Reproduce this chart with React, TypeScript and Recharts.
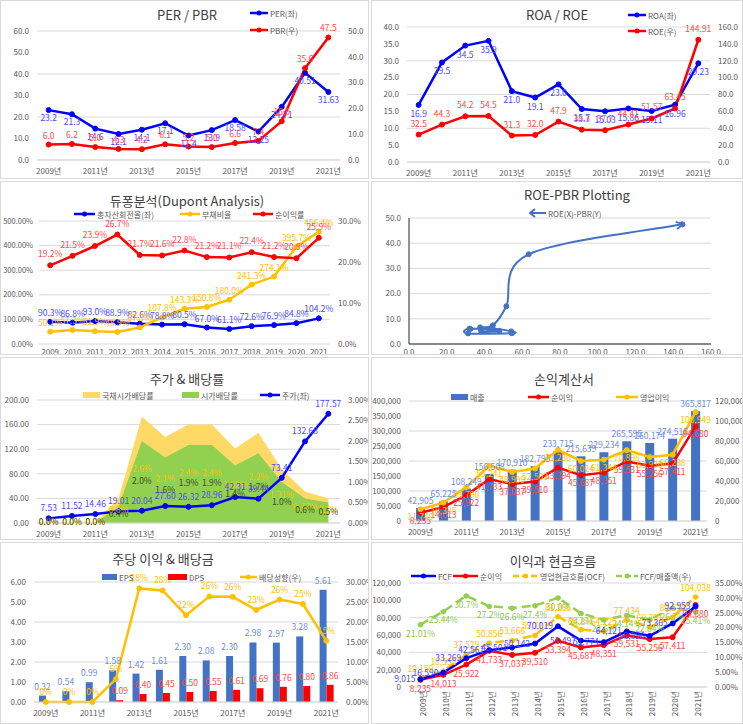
import React from 'react';
import {
  ComposedChart,
  Line,
  Bar,
  Area,
  XAxis,
  YAxis,
  CartesianGrid,
  LabelList
} from 'recharts';

const FONT = '"Noto Sans CJK KR", "Noto Sans", sans-serif';
const GRID = '#D9D9D9';
const TICK = { fill: '#595959', fontSize: 8, fontFamily: FONT };
const BLUE = '#0000FF';
const RED = '#FF0000';
const GOLD = '#FFC000';
const BAR_BLUE = '#4472C4';
const BLUE_L = '#4b4bff';
const RED_L = '#ff4a4a';
const BAR_L = '#6d8ed8';

const years = [2009, 2010, 2011, 2012, 2013, 2014, 2015, 2016, 2017, 2018, 2019, 2020, 2021];

// PER / PBR
const perValues = [23.2, 21.3, 14.6, 12.1, 14.1, 17.1, 11.4, 13.9, 18.58, 13.25, 24.71, 40.51, 31.63];
const pbrValues = [6.0, 6.2, 5.0, 4.3, 4.2, 6.1, 5.2, 5.0, 6.6, 7.4, 15.0, 35.6, 47.5];
const perTicks = [0, 10, 20, 30, 40, 50, 60];
const pbrTicks = [0, 5, 10, 15, 20, 25, 30, 35, 40, 45, 50];

// ROA / ROE
const roaValues = [16.9, 29.5, 34.5, 35.9, 21.0, 19.1, 23.0, 15.7, 15.03, 15.86, 15.11, 16.96, 29.23];
const roeValues = [32.5, 44.3, 54.2, 54.5, 31.3, 32.0, 47.9, 38.3, 37.7, 44.41, 51.57, 63.45, 144.91];
const roaTicks = [0, 5, 10, 15, 20, 25, 30, 35, 40];
const roeTicks = [0, 20, 40, 60, 80, 100, 120, 140, 160];

// Dupont
const assetTurnover = [90.3, 86.8, 93.0, 88.9, 82.6, 78.8, 80.5, 67.0, 61.1, 72.6, 76.9, 84.8, 104.2];
const debtRatio = [50.1, 57.3, 51.9, 48.9, 67.3, 107.8, 143.3, 150.8, 180.0, 241.3, 274.1, 395.7, 456.4];
const netMargin = [19.2, 21.5, 23.9, 26.7, 21.7, 21.6, 22.8, 21.2, 21.1, 22.4, 21.2, 20.9, 25.9];
const dupontLeftTicks = [0, 50, 100, 150, 200, 250, 300, 350, 400, 450, 500];
const dupontRightTicks = [0, 10, 20, 30];

// ROE-PBR plotting
const scatterTicksX = [0, 20, 40, 60, 80, 100, 120, 140, 160];
const scatterTicksY = [0, 5, 10, 15, 20, 25, 30, 35, 40, 45, 50];

// stock price & dividend yield
const stockPrice = [7.53, 11.52, 14.46, 19.01, 20.04, 27.6, 26.32, 28.96, 42.31, 39.44, 73.41, 132.68, 177.57];
const bondYield = [0, 0, 0, 0.6, 2.6, 2.1, 2.4, 2.4, 1.82, 2.2, 1.31, 0.77, 0.6];
const divYield = [0, 0, 0, 0.4, 2.0, 1.6, 1.9, 1.9, 1.4, 1.7, 1.0, 0.6, 0.5];
const priceTicks = [0, 20, 40, 60, 80, 100, 120, 140, 160, 180, 200];
const yieldTicks = [0, 0.5, 1, 1.5, 2, 2.5, 3];

// income statement
const revenue = [42905, 65225, 108249, 156508, 170910, 182795, 233715, 215639, 229234, 265595, 260174, 274515, 365817];
const netIncome = [8235, 14013, 25922, 41733, 37037, 39510, 53394, 45687, 48351, 59531, 55256, 57411, 94680];
const opIncome = [11740, 18385, 33790, 55241, 48999, 52503, 71230, 60024, 61344, 70898, 63930, 66288, 108949];
const revenueTicks = [0, 50000, 100000, 150000, 200000, 250000, 300000, 350000, 400000];
const incomeTicks = [0, 20000, 40000, 60000, 80000, 100000, 120000];

// per share
const eps = [0.32, 0.54, 0.99, 1.58, 1.42, 1.61, 2.3, 2.08, 2.3, 2.98, 2.97, 3.28, 5.61];
const dps = [0, 0, 0, 0.09, 0.4, 0.45, 0.5, 0.55, 0.61, 0.69, 0.76, 0.8, 0.86];
const payout = [0, 0, 0, 5.7, 28.4, 27.9, 21.7, 26.4, 26.3, 23.0, 25.6, 24.5, 15.3];
const epsTicks = [0, 1, 2, 3, 4, 5, 6];
const payoutTicks = [0, 5, 10, 15, 20, 25, 30];

// cash flow
const fcf = [9015, 16590, 33269, 42561, 45501, 50142, 70019, 53497, 51774, 64121, 58896, 73365, 92953];
const ocf = [10159, 18595, 37529, 50856, 53666, 59713, 81266, 66231, 64225, 77434, 69391, 80674, 104038];
const fcfMargin = [21.01, 25.44, 30.7, 27.2, 26.6, 27.4, 30.0, 24.8, 22.6, 24.14, 22.64, 26.7, 25.41];
const cashTicks = [0, 20000, 40000, 60000, 80000, 100000, 120000];
const marginTicks = [0, 5, 10, 15, 20, 25, 30, 35];

const yearKo = (y: number) => `${y}년`;
const fix1 = (v: number) => v.toFixed(1);
const fix2 = (v: number) => v.toFixed(2);
const comma = (v: number) => v.toLocaleString('en-US');
const fmtNum = (v: number) => (String(v).includes('.') ? String(v) : v.toFixed(1));
const fmtPct = (v: number) => `${fmtNum(v)}%`;

const dotOf = (c: string, r = 2.5) => ({ r, fill: c, stroke: c, strokeWidth: 1 });
const lbl = (c: string) => ({ fill: c, fontSize: 8.5, fontFamily: FONT });

// Excel-like smoothed line (Catmull-Rom through the points)
const smoothCurve = (context: any) => {
  let pts: number[][] = [];
  return {
    areaStart() {},
    areaEnd() {},
    lineStart() {
      pts = [];
    },
    lineEnd() {
      if (!pts.length) return;
      context.moveTo(pts[0][0], pts[0][1]);
      for (let i = 0; i < pts.length - 1; i++) {
        const p0 = pts[Math.max(i - 1, 0)];
        const p1 = pts[i];
        const p2 = pts[i + 1];
        const p3 = pts[Math.min(i + 2, pts.length - 1)];
        context.bezierCurveTo(
          p1[0] + (p2[0] - p0[0]) / 6,
          p1[1] + (p2[1] - p0[1]) / 6,
          p2[0] - (p3[0] - p1[0]) / 6,
          p2[1] - (p3[1] - p1[1]) / 6,
          p2[0],
          p2[1]
        );
      }
    },
    point(x: number, y: number) {
      pts.push([x, y]);
    }
  };
};

type LegendKind = 'line' | 'box' | 'dash' | 'arrow';

const LegendItem = ({ x, y, kind, color, label, w = 18 }: { x: number; y: number; kind: LegendKind; color: string; label: string; w?: number }) => (
  <div style={{ position: 'absolute', left: x, top: y - 7, height: 14, display: 'flex', alignItems: 'center', fontSize: 8, color: '#595959', whiteSpace: 'nowrap', fontFamily: FONT }}>
    <svg width={w} height={10} style={{ marginRight: 2 }}>
      {kind === 'box' && <rect x={0} y={2} width={w} height={6} fill={color} />}
      {kind === 'line' && (
        <>
          <line x1={0} y1={5} x2={w} y2={5} stroke={color} strokeWidth={2.5} />
          <circle cx={w / 2} cy={5} r={2.5} fill={color} />
        </>
      )}
      {kind === 'dash' && (
        <>
          <line x1={0} y1={5} x2={w} y2={5} stroke={color} strokeWidth={2.5} strokeDasharray="6 3" />
          <circle cx={w / 2} cy={5} r={2.5} fill={color} />
        </>
      )}
      {kind === 'arrow' && (
        <>
          <line x1={2} y1={5} x2={w} y2={5} stroke={color} strokeWidth={2} />
          <path d="M6,1 L1,5 L6,9" fill="none" stroke={color} strokeWidth={2} />
        </>
      )}
    </svg>
    <span>{label}</span>
  </div>
);

const Title = ({ cx, cy, text }: { cx: number; cy: number; text: string }) => (
  <div style={{ position: 'absolute', left: cx - 120, width: 240, top: cy - 10, height: 20, lineHeight: '20px', textAlign: 'center', fontSize: 13, color: '#404040', fontFamily: FONT, whiteSpace: 'nowrap' }}>
    {text}
  </div>
);

const Panel = ({ x, y, w, h, children }: { x: number; y: number; w: number; h: number; children: React.ReactNode }) => (
  <div style={{ position: 'absolute', left: x, top: y, width: w, height: h, border: `1px solid ${GRID}`, boxSizing: 'border-box', overflow: 'hidden', background: '#fff' }}>
    <div style={{ position: 'absolute', left: -1, top: -1, width: w, height: h }}>{children}</div>
  </div>
);

const perPbrData = years.map((y, i) => ({ year: y, per: perValues[i], pbr: pbrValues[i] }));
const roaRoeData = years.map((y, i) => ({ year: y, roa: roaValues[i], roe: roeValues[i] }));
const dupontData = years.map((y, i) => ({ year: y, turnover: assetTurnover[i], debt: debtRatio[i], margin: netMargin[i] }));
const scatterData = years.map((y, i) => ({ year: y, roe: roeValues[i], pbr: pbrValues[i] }));
const priceData = years.map((y, i) => ({ year: y, price: stockPrice[i], bond: bondYield[i], div: divYield[i] }));
const incomeData = years.map((y, i) => ({ year: y, revenue: revenue[i], net: netIncome[i], op: opIncome[i] }));
const perShareData = years.map((y, i) => ({ year: y, eps: eps[i], dps: dps[i], payout: payout[i] }));
const cashData = years.map((y, i) => ({ year: y, fcf: fcf[i], net: netIncome[i], ocf: ocf[i], margin: fcfMargin[i] }));

const axisY = { tick: TICK, axisLine: false, tickLine: false };

function PerPbrChart() {
  return (
    <ComposedChart width={369} height={179} data={perPbrData} margin={{ top: 31, right: 0, bottom: 0, left: 0 }}>
      <CartesianGrid vertical={false} stroke={GRID} yAxisId="l" />
      <XAxis dataKey="year" scale="band" tickFormatter={yearKo} interval={1} tick={TICK} tickLine={false} axisLine={{ stroke: GRID }} height={19} />
      <YAxis yAxisId="l" domain={[0, 60]} ticks={perTicks} tickFormatter={fix1} width={37} {...axisY} />
      <YAxis yAxisId="r" orientation="right" domain={[0, 50]} ticks={pbrTicks} tickFormatter={fix1} width={29} {...axisY} />
      <Line yAxisId="l" dataKey="per" stroke={BLUE} strokeWidth={2.5} dot={dotOf(BLUE)} isAnimationActive={false}>
        <LabelList dataKey="per" position="bottom" offset={5} formatter={fmtNum} {...lbl(BLUE_L)} />
      </Line>
      <Line yAxisId="r" dataKey="pbr" stroke={RED} strokeWidth={2.5} dot={dotOf(RED)} isAnimationActive={false}>
        <LabelList dataKey="pbr" position="top" offset={6} formatter={fmtNum} {...lbl(RED_L)} />
      </Line>
    </ComposedChart>
  );
}

function RoaRoeChart() {
  return (
    <ComposedChart width={372} height={179} data={roaRoeData} margin={{ top: 27, right: 0, bottom: 0, left: 0 }}>
      <CartesianGrid vertical={false} stroke={GRID} yAxisId="l" />
      <XAxis dataKey="year" scale="band" tickFormatter={yearKo} interval={1} tick={TICK} tickLine={false} axisLine={{ stroke: GRID }} height={17} />
      <YAxis yAxisId="l" domain={[0, 40]} ticks={roaTicks} tickFormatter={fix1} width={36} {...axisY} />
      <YAxis yAxisId="r" orientation="right" domain={[0, 160]} ticks={roeTicks} tickFormatter={fix1} width={33} {...axisY} />
      <Line yAxisId="l" dataKey="roa" stroke={BLUE} strokeWidth={2.5} dot={dotOf(BLUE)} isAnimationActive={false}>
        <LabelList dataKey="roa" position="bottom" offset={6} formatter={fmtNum} {...lbl(BLUE_L)} />
      </Line>
      <Line yAxisId="r" dataKey="roe" stroke={RED} strokeWidth={2.5} dot={dotOf(RED)} isAnimationActive={false}>
        <LabelList dataKey="roe" position="top" offset={8} formatter={fmtNum} {...lbl(RED_L)} />
      </Line>
    </ComposedChart>
  );
}

function DupontChart() {
  return (
    <ComposedChart width={369} height={176} data={dupontData} margin={{ top: 40, right: 0, bottom: 0, left: 0 }}>
      <CartesianGrid vertical={false} stroke={GRID} yAxisId="l" />
      <XAxis dataKey="year" scale="band" interval={0} tick={TICK} tickLine={false} axisLine={false} height={13} tickSize={0} tickMargin={5} />
      <YAxis yAxisId="l" domain={[0, 500]} ticks={dupontLeftTicks} tickFormatter={(v: number) => `${fix2(v)}%`} width={39} tick={{ ...TICK, fontSize: 7.5 }} axisLine={false} tickLine={false} tickSize={4} tickMargin={2} />
      <YAxis yAxisId="r" orientation="right" domain={[0, 30]} ticks={dupontRightTicks} tickFormatter={(v: number) => `${fix1(v)}%`} width={39} {...axisY} />
      <Line yAxisId="l" dataKey="turnover" stroke={BLUE} strokeWidth={2.5} dot={dotOf(BLUE)} isAnimationActive={false}>
        <LabelList dataKey="turnover" position="top" offset={6} formatter={fmtPct} {...lbl(BLUE_L)} />
      </Line>
      <Line yAxisId="l" dataKey="debt" stroke={GOLD} strokeWidth={2.5} dot={dotOf(GOLD)} isAnimationActive={false}>
        <LabelList dataKey="debt" position="top" offset={6} formatter={fmtPct} {...lbl(GOLD)} />
      </Line>
      <Line yAxisId="r" dataKey="margin" stroke={RED} strokeWidth={2.5} dot={dotOf(RED)} isAnimationActive={false}>
        <LabelList dataKey="margin" position="top" offset={8} formatter={fmtPct} {...lbl(RED_L)} />
      </Line>
    </ComposedChart>
  );
}

function RoePbrChart() {
  return (
    <ComposedChart width={372} height={176} data={scatterData} margin={{ top: 37, right: 32, bottom: 0, left: 0 }}>
      <defs>
        <marker id="roeArrow" viewBox="0 0 10 10" refX="8" refY="5" markerWidth="9" markerHeight="9" markerUnits="userSpaceOnUse" orient="auto">
          <path d="M1,1 L9,5 L1,9" fill="none" stroke={BAR_BLUE} strokeWidth={2} />
        </marker>
      </defs>
      <CartesianGrid vertical={false} stroke={GRID} />
      <XAxis dataKey="roe" type="number" domain={[0, 160]} ticks={scatterTicksX} tickFormatter={fix1} tick={TICK} tickLine={false} axisLine={{ stroke: '#262626' }} height={13} tickSize={0} tickMargin={5} />
      <YAxis domain={[0, 50]} ticks={scatterTicksY} tickFormatter={fix1} width={38} tick={TICK} tickLine={false} axisLine={{ stroke: '#262626' }} />
      <Line dataKey="pbr" type={smoothCurve as any} stroke={BAR_BLUE} strokeWidth={2} dot={dotOf(BAR_BLUE, 2.5)} markerEnd="url(#roeArrow)" isAnimationActive={false} />
    </ComposedChart>
  );
}

const midLabel = (color: string, baseY: number) => (p: any) => {
  const { x, y, value } = p;
  if (x == null || y == null) return null;
  return (
    <text x={x} y={(y + baseY) / 2} fill={color} fontSize={8.5} fontFamily={FONT} textAnchor="middle" dominantBaseline="middle">
      {fmtPct(value)}
    </text>
  );
};

function PriceChart() {
  return (
    <ComposedChart width={369} height={183} data={priceData} margin={{ top: 43, right: 0, bottom: 0, left: 0 }}>
      <CartesianGrid vertical={false} stroke={GRID} yAxisId="l" />
      <XAxis dataKey="year" scale="band" tickFormatter={yearKo} interval={1} tick={TICK} tickLine={false} axisLine={{ stroke: GRID }} height={17} />
      <YAxis yAxisId="l" domain={[0, 200]} ticks={priceTicks} tickFormatter={fix2} width={37} {...axisY} />
      <YAxis yAxisId="r" orientation="right" domain={[0, 3]} ticks={yieldTicks} tickFormatter={(v: number) => `${fix2(v)}%`} width={29} {...axisY} />
      <Area yAxisId="r" dataKey="bond" type="linear" stroke="none" fill="#FFD966" fillOpacity={1} isAnimationActive={false}>
        <LabelList dataKey="bond" content={midLabel(GOLD, 166)} />
      </Area>
      <Area yAxisId="r" dataKey="div" type="linear" stroke="none" fill="#92D050" fillOpacity={1} isAnimationActive={false}>
        <LabelList dataKey="div" content={midLabel('#3d4d1c', 166)} />
      </Area>
      <Line yAxisId="l" dataKey="price" stroke={BLUE} strokeWidth={2.5} dot={dotOf(BLUE)} isAnimationActive={false}>
        <LabelList dataKey="price" position="top" offset={7} formatter={fix2} {...lbl(BLUE_L)} />
      </Line>
    </ComposedChart>
  );
}

function IncomeChart() {
  return (
    <ComposedChart width={372} height={183} data={incomeData} margin={{ top: 44, right: 0, bottom: 0, left: 0 }}>
      <CartesianGrid vertical={false} stroke={GRID} yAxisId="l" />
      <XAxis dataKey="year" tickFormatter={yearKo} interval={1} tick={TICK} tickLine={false} axisLine={{ stroke: GRID }} height={19} />
      <YAxis yAxisId="l" domain={[0, 400000]} ticks={revenueTicks} tickFormatter={comma} width={38} {...axisY} />
      <YAxis yAxisId="r" orientation="right" domain={[0, 120000]} ticks={incomeTicks} tickFormatter={comma} width={36} {...axisY} />
      <Bar yAxisId="l" dataKey="revenue" fill={BAR_BLUE} barSize={9} isAnimationActive={false}>
        <LabelList dataKey="revenue" position="top" offset={4} formatter={comma} {...lbl(BAR_L)} />
      </Bar>
      <Line yAxisId="r" dataKey="net" stroke={RED} strokeWidth={2.5} dot={dotOf(RED)} isAnimationActive={false}>
        <LabelList dataKey="net" position="bottom" offset={5} formatter={comma} {...lbl(RED_L)} />
      </Line>
      <Line yAxisId="r" dataKey="op" stroke={GOLD} strokeWidth={2.5} dot={dotOf(GOLD)} isAnimationActive={false}>
        <LabelList dataKey="op" position="bottom" offset={5} formatter={comma} {...lbl(GOLD)} />
      </Line>
    </ComposedChart>
  );
}

function PerShareChart() {
  return (
    <ComposedChart width={369} height={182} data={perShareData} margin={{ top: 40, right: 0, bottom: 0, left: 0 }} barGap={0}>
      <CartesianGrid vertical={false} stroke={GRID} yAxisId="l" />
      <XAxis dataKey="year" tickFormatter={yearKo} interval={1} tick={TICK} tickLine={false} axisLine={{ stroke: GRID }} height={22} />
      <YAxis yAxisId="l" domain={[0, 6]} ticks={epsTicks} tickFormatter={fix2} width={34} {...axisY} />
      <YAxis yAxisId="r" orientation="right" domain={[0, 30]} ticks={payoutTicks} tickFormatter={(v: number) => `${fix2(v)}%`} width={31} {...axisY} />
      <Bar yAxisId="l" dataKey="eps" fill={BAR_BLUE} barSize={7} isAnimationActive={false}>
        <LabelList dataKey="eps" position="top" offset={6} formatter={fix2} {...lbl(BAR_L)} />
      </Bar>
      <Bar yAxisId="l" dataKey="dps" fill={RED} barSize={7} isAnimationActive={false}>
        <LabelList dataKey="dps" position="top" offset={6} formatter={fix2} {...lbl(RED_L)} />
      </Bar>
      <Line yAxisId="r" dataKey="payout" stroke={GOLD} strokeWidth={2.5} dot={dotOf(GOLD)} isAnimationActive={false}>
        <LabelList dataKey="payout" position="top" offset={7} formatter={(v: number) => `${Math.round(v)}%`} {...lbl(GOLD)} />
      </Line>
    </ComposedChart>
  );
}

function CashChart() {
  return (
    <ComposedChart width={372} height={182} data={cashData} margin={{ top: 41, right: 0, bottom: 0, left: 0 }}>
      <CartesianGrid vertical={false} stroke={GRID} yAxisId="l" />
      <XAxis dataKey="year" scale="band" tickFormatter={yearKo} interval={0} angle={-90} textAnchor="end" tick={TICK} tickLine={false} axisLine={{ stroke: GRID }} height={37} tickSize={0} tickMargin={4} />
      <YAxis yAxisId="l" domain={[0, 120000]} ticks={cashTicks} tickFormatter={comma} width={38} {...axisY} />
      <YAxis yAxisId="r" orientation="right" domain={[0, 35]} ticks={marginTicks} tickFormatter={(v: number) => `${fix2(v)}%`} width={36} {...axisY} />
      <Line yAxisId="r" dataKey="margin" stroke="#92D050" strokeWidth={2.5} strokeDasharray="9 5" dot={dotOf('#92D050')} isAnimationActive={false}>
        <LabelList dataKey="margin" position="bottom" offset={6} formatter={fmtPct} {...lbl('#8cc84b')} />
      </Line>
      <Line yAxisId="l" dataKey="ocf" stroke={GOLD} strokeWidth={2.5} strokeDasharray="9 5" dot={dotOf(GOLD)} isAnimationActive={false}>
        <LabelList dataKey="ocf" position="top" offset={6} formatter={comma} {...lbl(GOLD)} />
      </Line>
      <Line yAxisId="l" dataKey="net" stroke={RED} strokeWidth={2.5} dot={dotOf(RED)} isAnimationActive={false}>
        <LabelList dataKey="net" position="bottom" offset={6} formatter={comma} {...lbl(RED_L)} />
      </Line>
      <Line yAxisId="l" dataKey="fcf" stroke={BLUE} strokeWidth={2.5} dot={dotOf(BLUE)} isAnimationActive={false}>
        <LabelList dataKey="fcf" position="left" offset={5} formatter={comma} {...lbl(BLUE_L)} />
      </Line>
    </ComposedChart>
  );
}

export default function App() {
  return (
    <div style={{ position: 'absolute', left: 0, top: 0, width: 743, height: 724, background: '#fff', fontFamily: FONT }}>
      <Panel x={0} y={0} w={369} h={179}>
        <PerPbrChart />
        <Title cx={187} cy={15} text="PER / PBR" />
        <LegendItem x={250} y={13} kind="line" color={BLUE} label="PER(좌)" />
        <LegendItem x={250} y={30} kind="line" color={RED} label="PBR(우)" />
      </Panel>
      <Panel x={371} y={0} w={372} h={179}>
        <RoaRoeChart />
        <Title cx={186} cy={15} text="ROA / ROE" />
        <LegendItem x={257} y={15} kind="line" color={BLUE} label="ROA(좌)" />
        <LegendItem x={257} y={31} kind="line" color={RED} label="ROE(우)" />
      </Panel>
      <Panel x={0} y={181} w={369} h={174}>
        <DupontChart />
        <Title cx={187} cy={20} text="듀퐁분석(Dupont Analysis)" />
        <LegendItem x={74} y={33} w={21} kind="line" color={BLUE} label="총자산회전율(좌)" />
        <LegendItem x={180} y={33} w={20} kind="line" color={GOLD} label="부채비율" />
        <LegendItem x={253} y={33} w={20} kind="line" color={RED} label="순이익률" />
      </Panel>
      <Panel x={371} y={181} w={372} h={174}>
        <RoePbrChart />
        <Title cx={206} cy={14} text="ROE-PBR Plotting" />
        <LegendItem x={158} y={32} w={17} kind="arrow" color={BAR_BLUE} label="ROE(X)-PBR(Y)" />
      </Panel>
      <Panel x={0} y={357} w={369} h={183}>
        <PriceChart />
        <Title cx={187} cy={22} text="주가 & 배당률" />
        <LegendItem x={83} y={38} w={17} kind="box" color="#FFD966" label="국채시가배당률" />
        <LegendItem x={182} y={38} w={17} kind="box" color="#92D050" label="시가배당률" />
        <LegendItem x={260} y={38} w={20} kind="line" color={BLUE} label="주가(좌)" />
      </Panel>
      <Panel x={371} y={357} w={372} h={183}>
        <IncomeChart />
        <Title cx={193} cy={22} text="손익계산서" />
        <LegendItem x={80} y={40} w={17} kind="box" color={BAR_BLUE} label="매출" />
        <LegendItem x={157} y={40} w={21} kind="line" color={RED} label="순이익" />
        <LegendItem x={245} y={40} w={22} kind="line" color={GOLD} label="영업이익" />
      </Panel>
      <Panel x={0} y={542} w={369} h={182}>
        <PerShareChart />
        <Title cx={163} cy={17} text="주당 이익 & 배당금" />
        <LegendItem x={102} y={35} w={15} kind="box" color={BAR_BLUE} label="EPS" />
        <LegendItem x={168} y={35} w={19} kind="box" color={RED} label="DPS" />
        <LegendItem x={240} y={35} w={17} kind="line" color={GOLD} label="배당성향(우)" />
      </Panel>
      <Panel x={371} y={542} w={372} h={182}>
        <CashChart />
        <Title cx={182} cy={19} text="이익과 현금흐름" />
        <LegendItem x={40} y={34} w={25} kind="line" color={BLUE} label="FCF" />
        <LegendItem x={82} y={34} w={25} kind="line" color={RED} label="순이익" />
        <LegendItem x={142} y={34} w={25} kind="dash" color={GOLD} label="영업현금흐름(OCF)" />
        <LegendItem x={245} y={34} w={22} kind="dash" color="#92D050" label="FCF/매출액(우)" />
      </Panel>
    </div>
  );
}
